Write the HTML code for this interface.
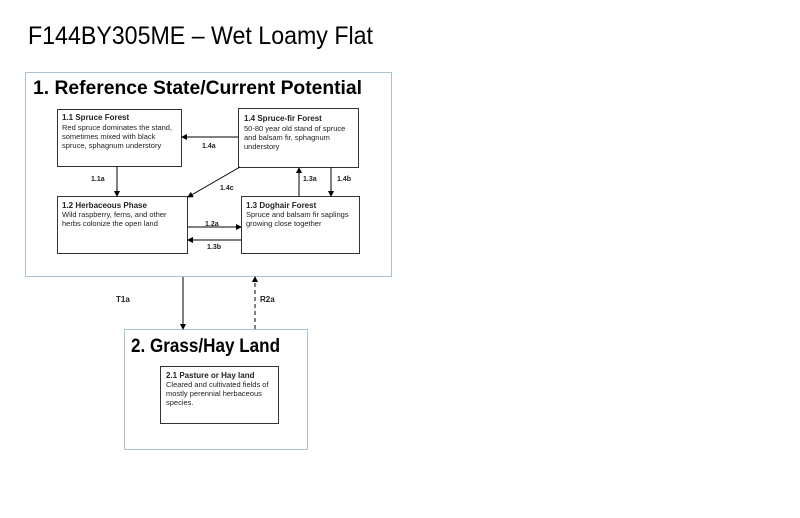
<!DOCTYPE html>
<html><head><meta charset="utf-8"><style>
html,body{margin:0;padding:0;background:#fff;}
svg{display:block;font-family:"Liberation Sans",sans-serif;}
.b{font-weight:bold;}
</style></head><body>
<svg width="800" height="518" viewBox="0 0 800 518" xmlns="http://www.w3.org/2000/svg">
<defs><marker id="a" markerWidth="6" markerHeight="6" refX="5" refY="3" orient="auto" markerUnits="userSpaceOnUse"><path d="M0,0 L6,3 L0,6 z" fill="#000"/></marker></defs>
<text x="28" y="44" font-size="25" fill="#000" textLength="345" lengthAdjust="spacingAndGlyphs">F144BY305ME – Wet Loamy Flat</text>
<rect x="25.5" y="72.5" width="366" height="204" fill="none" stroke="#a9c4d0"/>
<text x="33" y="94" font-size="19" class="b" textLength="329" lengthAdjust="spacingAndGlyphs">1. Reference State/Current Potential</text>
<g fill="#fff" stroke="#333">
<rect x="57.5" y="109.5" width="124" height="57"/>
<rect x="238.5" y="108.5" width="120" height="59"/>
<rect x="57.5" y="196.5" width="130" height="57"/>
<rect x="241.5" y="196.5" width="118" height="57"/>
<rect x="160.5" y="366.5" width="118" height="57"/>
</g>
<g font-size="7.5" fill="#222">
<text x="62" y="120" class="b" font-size="8">1.1 Spruce Forest</text>
<text x="62" y="130">Red spruce dominates the stand,</text>
<text x="62" y="139">sometimes mixed with black</text>
<text x="62" y="148">spruce, sphagnum understory</text>
<text x="244" y="121" class="b" font-size="8">1.4 Spruce-fir Forest</text>
<text x="244" y="131">50-80 year old stand of spruce</text>
<text x="244" y="140">and balsam fir, sphagnum</text>
<text x="244" y="149">understory</text>
<text x="62" y="208" class="b" font-size="8">1.2 Herbaceous Phase</text>
<text x="62" y="217">Wild raspberry, ferns, and other</text>
<text x="62" y="226">herbs colonize the open land</text>
<text x="246" y="208" class="b" font-size="8">1.3 Doghair Forest</text>
<text x="246" y="217">Spruce and balsam fir saplings</text>
<text x="246" y="226">growing close together</text>
<text x="166" y="378" class="b" font-size="8">2.1 Pasture or Hay land</text>
<text x="166" y="387">Cleared and cultivated fields of</text>
<text x="166" y="396">mostly perennial herbaceous</text>
<text x="166" y="405">species.</text>
</g>
<rect x="124.5" y="329.5" width="183" height="120" fill="none" stroke="#a9c4d0"/>
<text x="131" y="352" font-size="19" class="b" textLength="149" lengthAdjust="spacingAndGlyphs">2. Grass/Hay Land</text>
<g stroke="#000" stroke-width="1" marker-end="url(#a)">
<line x1="238" y1="137" x2="182" y2="137"/>
<line x1="117" y1="166" x2="117" y2="196"/>
<line x1="240" y1="167" x2="188" y2="197"/>
<line x1="299" y1="196" x2="299" y2="168"/>
<line x1="331" y1="167" x2="331" y2="196"/>
<line x1="188" y1="227" x2="241" y2="227"/>
<line x1="241" y1="240" x2="188" y2="240"/>
<line x1="183" y1="277" x2="183" y2="329"/>
<line x1="255" y1="329" x2="255" y2="277" stroke-dasharray="4,3"/>
</g>
<g font-size="7" class="b" fill="#222">
<text x="202" y="148">1.4a</text>
<text x="91" y="181">1.1a</text>
<text x="220" y="190">1.4c</text>
<text x="303" y="181">1.3a</text>
<text x="337" y="181">1.4b</text>
<text x="205" y="226">1.2a</text>
<text x="207" y="249">1.3b</text>
<text x="116" y="302" font-size="8">T1a</text>
<text x="260" y="302" font-size="8">R2a</text>
</g>
</svg>
</body></html>
